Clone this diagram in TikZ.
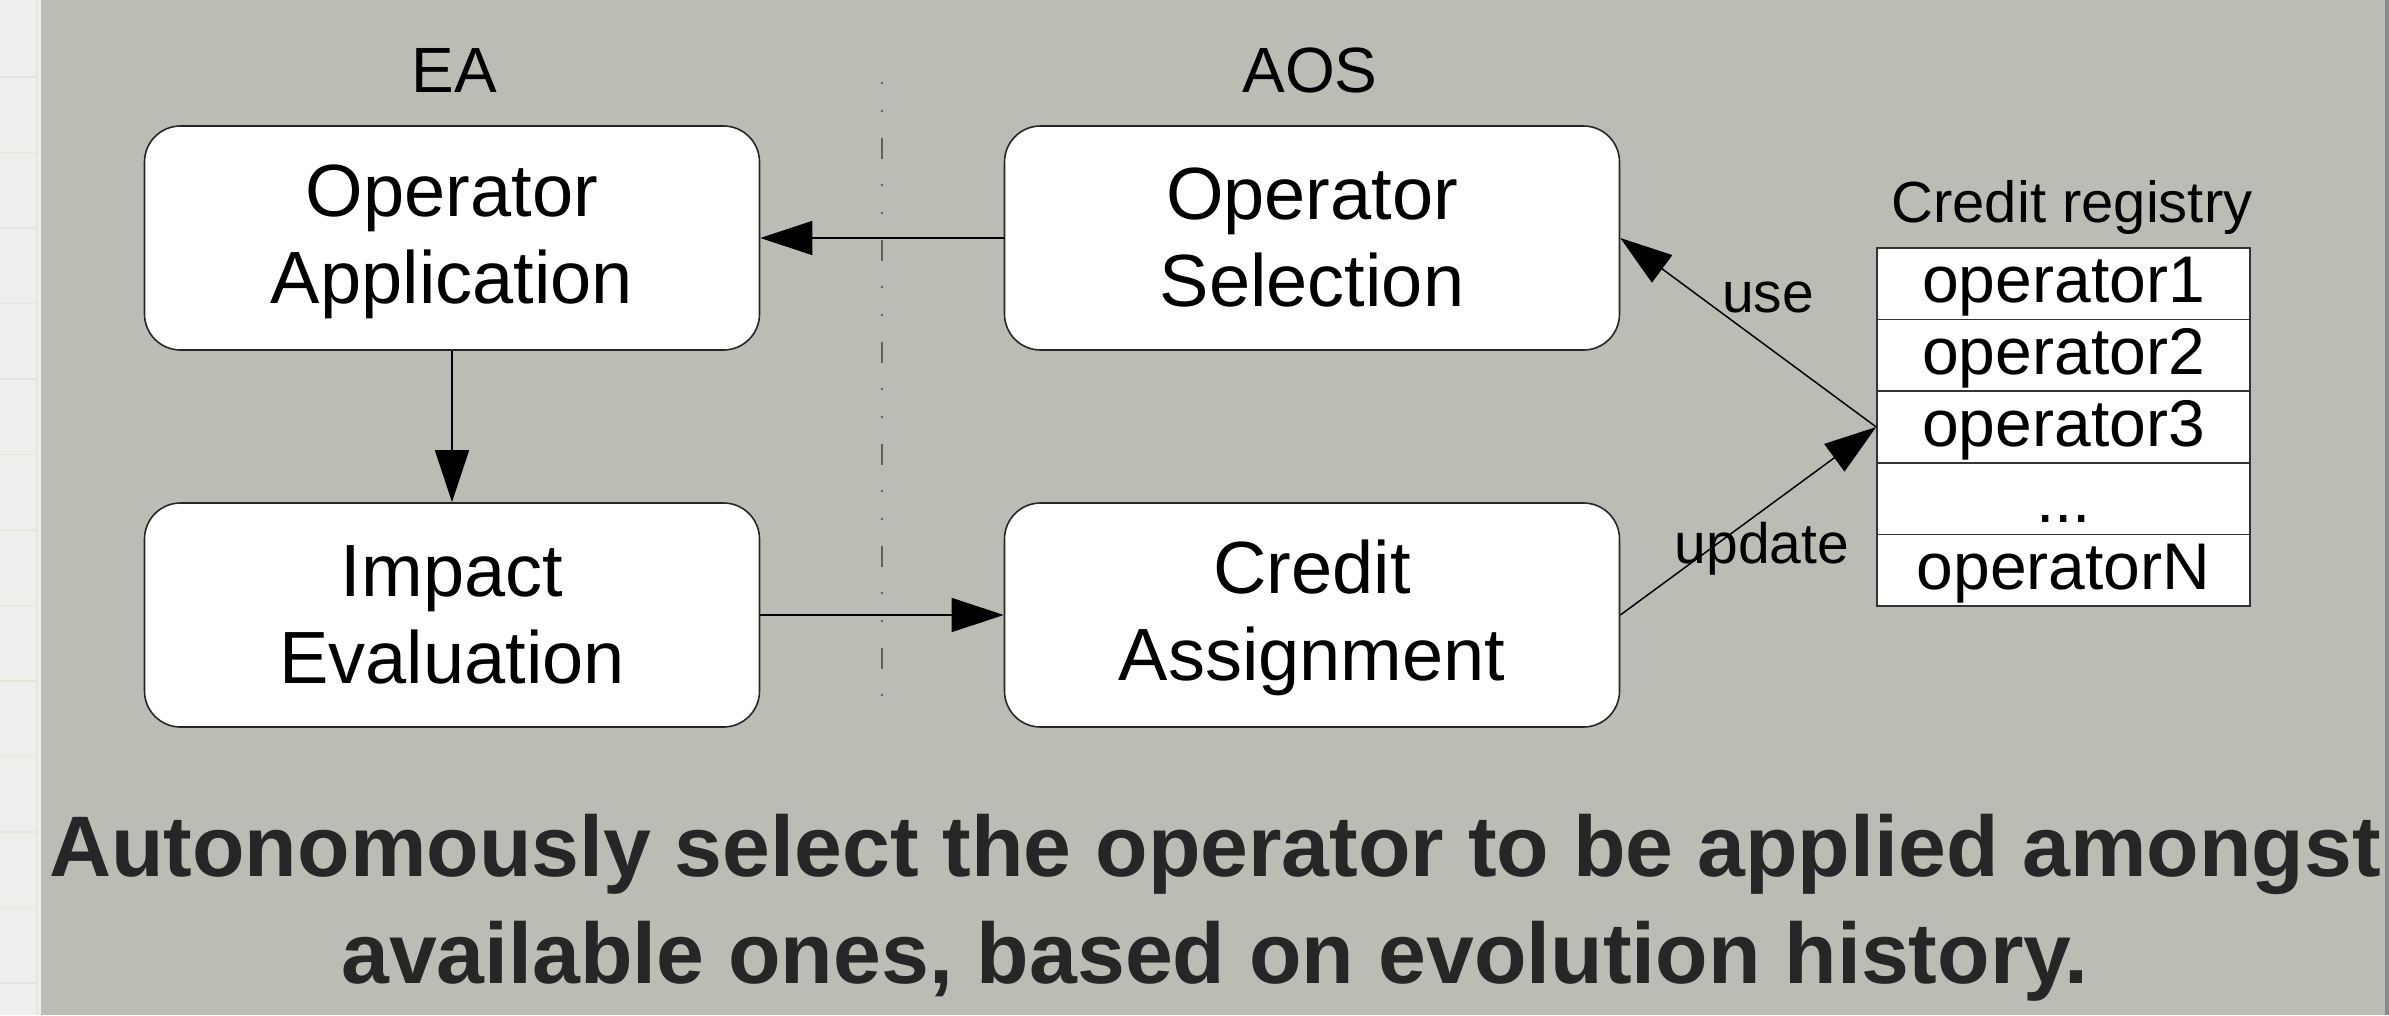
\documentclass[tikz,border=0pt]{standalone}
\usepackage{fontspec}
\setmainfont{Liberation Sans}
\usetikzlibrary{arrows.meta}
\definecolor{bggray}{RGB}{187,189,181}
\definecolor{stripgray}{RGB}{239,239,238}
\definecolor{gridgray}{RGB}{228,230,222}
\definecolor{edgegray}{RGB}{138,138,138}
\definecolor{dashgray}{RGB}{96,96,96}
\definecolor{titlegray}{RGB}{38,38,38}
\newcommand{\bxs}{\rule[-11pt]{0pt}{71pt}}
\newcommand{\rgs}{\rule[-5pt]{0pt}{57pt}}
\tikzset{
  procbox/.style={draw=black!85, line width=1.6pt, fill=white, rounded corners=36pt,
    minimum width=615pt, minimum height=224pt, align=center,
    font=\fontsize{74}{87}\selectfont, inner sep=0pt},
  regrow/.style={draw=black!80, line width=1.6pt, fill=white,
    minimum width=373pt, minimum height=71.6pt, inner sep=0pt,
    font=\fontsize{66}{70}\selectfont},
  arr/.style={line width=1.5pt, draw=black, -{Triangle[length=52pt,width=34pt]}},
  hdr/.style={font=\fontsize{64}{70}\selectfont, anchor=base, inner sep=0pt},
  lbl/.style={font=\fontsize{57}{60}\selectfont, anchor=base, inner sep=0pt},
  ttl/.style={font=\fontsize{86}{100}\selectfont\bfseries, text=titlegray, anchor=base, inner sep=0pt}
}
\begin{document}
\begin{tikzpicture}[x=1pt,y=-1pt]
\useasboundingbox (0,0) rectangle (2389,1015);
% background
\fill[stripgray] (0,0) rectangle (41,1015);
\foreach \yy in {77,152.5,228,303.5,379,454.5,530,605.5,681,756.5,832,907.5,983}
  \draw[gridgray, line width=1.5pt] (0,\yy) -- (37,\yy);
\draw[gridgray, line width=1.5pt] (37,0) -- (37,1015);
\fill[bggray] (41,0) rectangle (2389,1015);
\fill[edgegray] (2385,0) rectangle (2389,1015);
% separator
\draw[dashgray, line width=2pt, dash pattern=on 2pt off 26pt on 2pt off 26pt on 21pt off 25pt] (882,82) -- (882,700);
% headers
\node[hdr] (ea) at (454,92) {EA};
\node[hdr] (aos) at (1310,92) {AOS};
% boxes
\node[procbox] (app) at (452,238) {\bxs Operator\\\bxs Application};
\node[procbox] (imp) at (452,615) {\bxs Impact\\\bxs Evaluation};
\node[procbox] (sel) at (1312,238) {\bxs Operator\\\bxs Selection};
\node[procbox] (cred) at (1312,615) {\bxs Credit\\\bxs Assignment};
% registry
\node[font=\fontsize{58}{60}\selectfont, anchor=base, inner sep=0pt] (regt) at (2072,222) {Credit registry};
\node[regrow] (r1) at (2063.5,283.8) {\rgs operator1};
\node[regrow] (r2) at (2063.5,355.4) {\rgs operator2};
\node[regrow] (r3) at (2063.5,427.0) {\rgs operator3};
\node[regrow] (r4) at (2063.5,498.6) {\rgs ...};
\node[regrow] (r5) at (2063.5,570.2) {\rgs operatorN};
\coordinate (reg) at (r3.west);
% connectors
\draw[arr] (sel.west) -- (app.east);
\draw[arr] (app.south) -- (imp.north);
\draw[arr] (imp.east) -- (cred.west);
\draw[arr] (reg) -- (sel.east);
\draw[arr] (cred.east) -- (reg);
\node[lbl] (use) at (1768,312) {use};
\node[lbl] (upd) at (1762,563) {update};
% title
\node[ttl] (t1) at (1215,876) {Autonomously select the operator to be applied amongst};
\node[ttl] (t2) at (1215,983) {available ones, based on evolution history.};
\end{tikzpicture}
\end{document}
